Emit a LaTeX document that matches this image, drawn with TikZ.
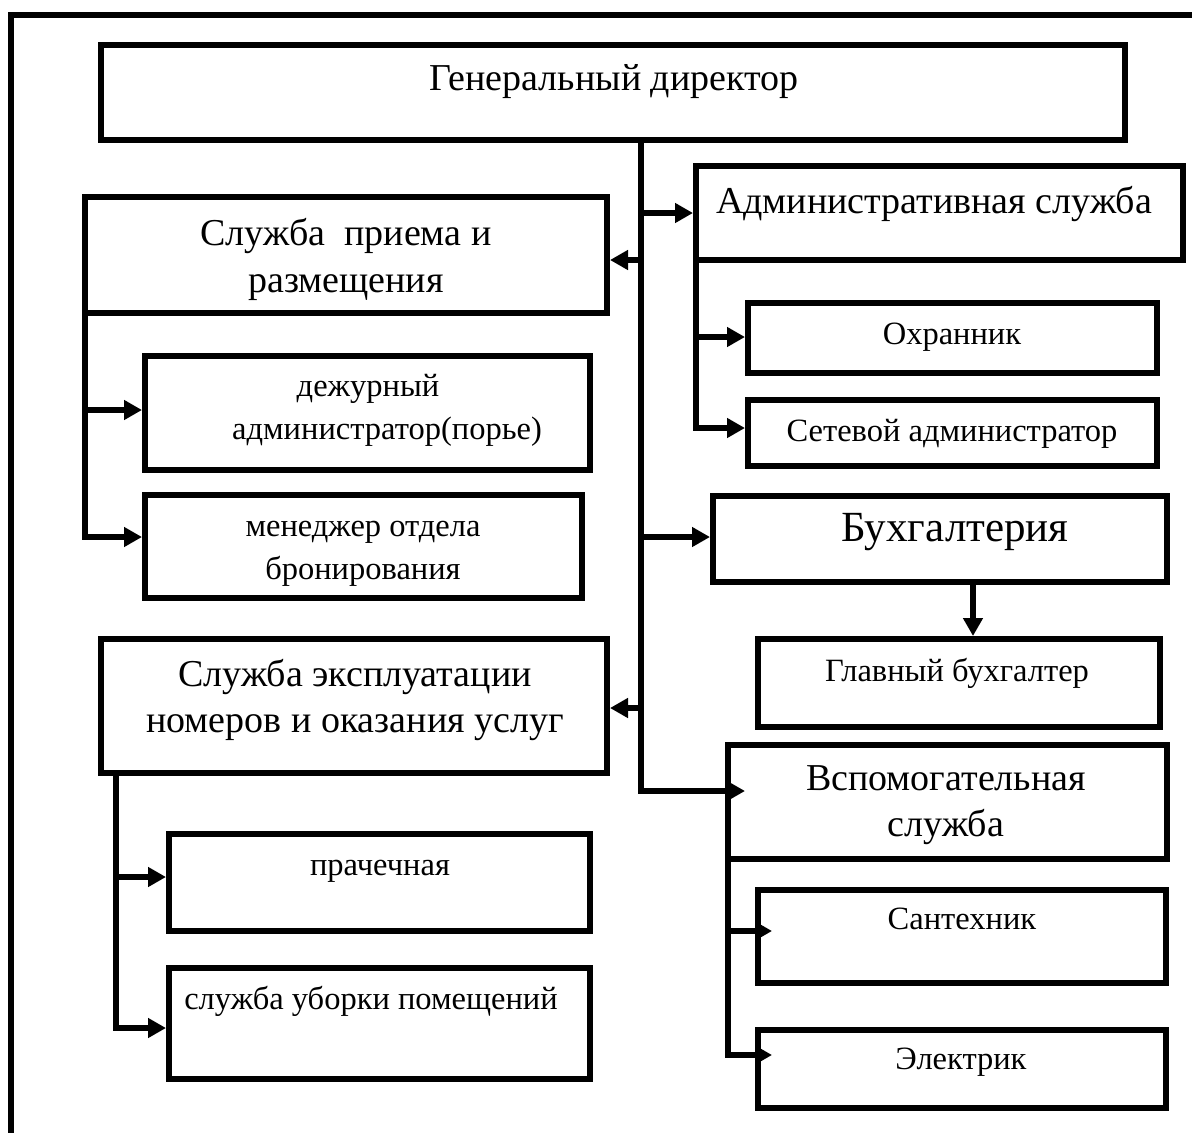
\documentclass[tikz,border=0pt]{standalone}
\usepackage{fontspec}
\setmainfont{Liberation Serif}
\usetikzlibrary{arrows.meta,fit}
\begin{document}
\begin{tikzpicture}[x=1pt,y=-1pt,
  box/.style={draw, line width=6pt, inner sep=0pt, outer sep=0pt, rectangle},
  big/.style={font=\fontsize{38}{46}\selectfont, inner sep=0pt, text height=28pt, text depth=10pt},
  huge/.style={font=\fontsize{43}{50}\selectfont, inner sep=0pt, text height=31pt, text depth=11pt},
  small/.style={font=\fontsize{32.5}{43}\selectfont, inner sep=0pt, text height=24pt, text depth=8pt},
  conn/.style={line width=6pt, line join=miter},
  arr/.style={line width=6pt, line join=miter, -{Triangle[length=18pt,width=19pt]}},
  sarr/.style={line width=6pt, line join=miter, -{Triangle[length=16pt,width=17pt]}},
]
\useasboundingbox (0,0) rectangle (1192,1133);
% outer frame
\draw[line width=6pt, line join=miter] (11,1145) -- (11,15) -- (1205,15);

% boxes
\node[box, fit={(101,45) (1125,140)}] (gd) {};
\node[box, fit={(696,166) (1183,260)}] (adm) {};
\node[box, fit={(85,197) (607,313)}] (priem) {};
\node[box, fit={(145,356) (590,470)}] (dezh) {};
\node[box, fit={(145,495) (582,598)}] (men) {};
\node[box, fit={(748,303) (1157,373)}] (ohr) {};
\node[box, fit={(748,400) (1157,466)}] (set) {};
\node[box, fit={(713,496) (1167,582)}] (buh) {};
\node[box, fit={(758,639) (1160,727)}] (gl) {};
\node[box, fit={(101,639) (607,773)}] (expl) {};
\node[box, fit={(728,745) (1167,859)}] (vsp) {};
\node[box, fit={(169,834) (590,931)}] (prach) {};
\node[box, fit={(169,968) (590,1079)}] (ub) {};
\node[box, fit={(758,890) (1166,983)}] (sant) {};
\node[box, fit={(758,1030) (1166,1108)}] (el) {};

% texts
\node[big] (gdT) at (614,81) {Генеральный директор};
\node[big] (admT) at (934,204) {Административная служба};
\node[big] (priemT1) at (346,236) {Служба\ \ приема и};
\node[big] (priemT2) at (346,283) {размещения};
\node[small] (dezhT1) at (368,388) {дежурный};
\node[small] (dezhT2) at (387,431) {администратор(порье)};
\node[small] (menT1) at (363,528) {менеджер отдела};
\node[small] (menT2) at (363,571) {бронирования};
\node[small] (ohrT) at (952,336) {Охранник};
\node[small] (setT) at (952,433) {Сетевой администратор};
\node[huge] (buhT) at (955,531) {Бухгалтерия};
\node[small] (glT) at (957,673) {Главный бухгалтер};
\node[big] (explT1) at (355,677) {Служба эксплуатации};
\node[big] (explT2) at (355,723) {номеров и оказания услуг};
\node[big] (vspT1) at (946,781) {Вспомогательная};
\node[big] (vspT2) at (946,827) {служба};
\node[small] (prachT) at (380,867) {прачечная};
\node[small] (ubT) at (371,1001) {служба уборки помещений};
\node[small] (santT) at (962,921) {Сантехник};
\node[small] (elT) at (961,1061) {Электрик};

% junction coordinates
\coordinate (j1) at (641,213);
\coordinate (j2) at (641,260);
\coordinate (j3) at (641,537);
\coordinate (j4) at (641,708);
\coordinate (tb) at (641,791);
\coordinate (p1) at (85,410);
\coordinate (p2) at (85,537);
\coordinate (q1) at (696,337);
\coordinate (q2) at (696,428);
\coordinate (bx) at (973,600);
\coordinate (e1) at (116,877);
\coordinate (e2) at (116,1028);
\coordinate (v1) at (728,931);
\coordinate (v2) at (728,1055);

% trunk
\draw[arr, shorten >=-17pt] (gd.south -| tb) -- (tb) -- (tb -| vsp.west);
\draw[arr, shorten >=3pt] (j1) -- (j1 -| adm.west);
\draw[arr, shorten >=3pt] (j2) -- (j2 -| priem.east);
\draw[arr, shorten >=3pt] (j3) -- (j3 -| buh.west);
\draw[arr, shorten >=3pt] (j4) -- (j4 -| expl.east);

% priem branch
\draw[arr, shorten >=3pt] (priem.south west) -- (p2) -- (p2 -| men.west);
\draw[arr, shorten >=3pt] (p1) -- (p1 -| dezh.west);

% adm branch
\draw[arr, shorten >=3pt] (adm.south west) -- (q2) -- (q2 -| set.west);
\draw[arr, shorten >=3pt] (q1) -- (q1 -| ohr.west);

% buh -> gl
\draw[arr, shorten >=3pt] (buh.south -| bx) -- (gl.north -| bx);

% expl branch
\draw[arr, shorten >=3pt] (expl.south -| e2) -- (e2) -- (e2 -| ub.west);
\draw[arr, shorten >=3pt] (e1) -- (e1 -| prach.west);

% vsp branch
\draw[sarr, shorten >=-14pt] (vsp.south west) -- (v2) -- (v2 -| el.west);
\draw[sarr, shorten >=-14pt] (v1) -- (v1 -| sant.west);
\end{tikzpicture}
\end{document}
